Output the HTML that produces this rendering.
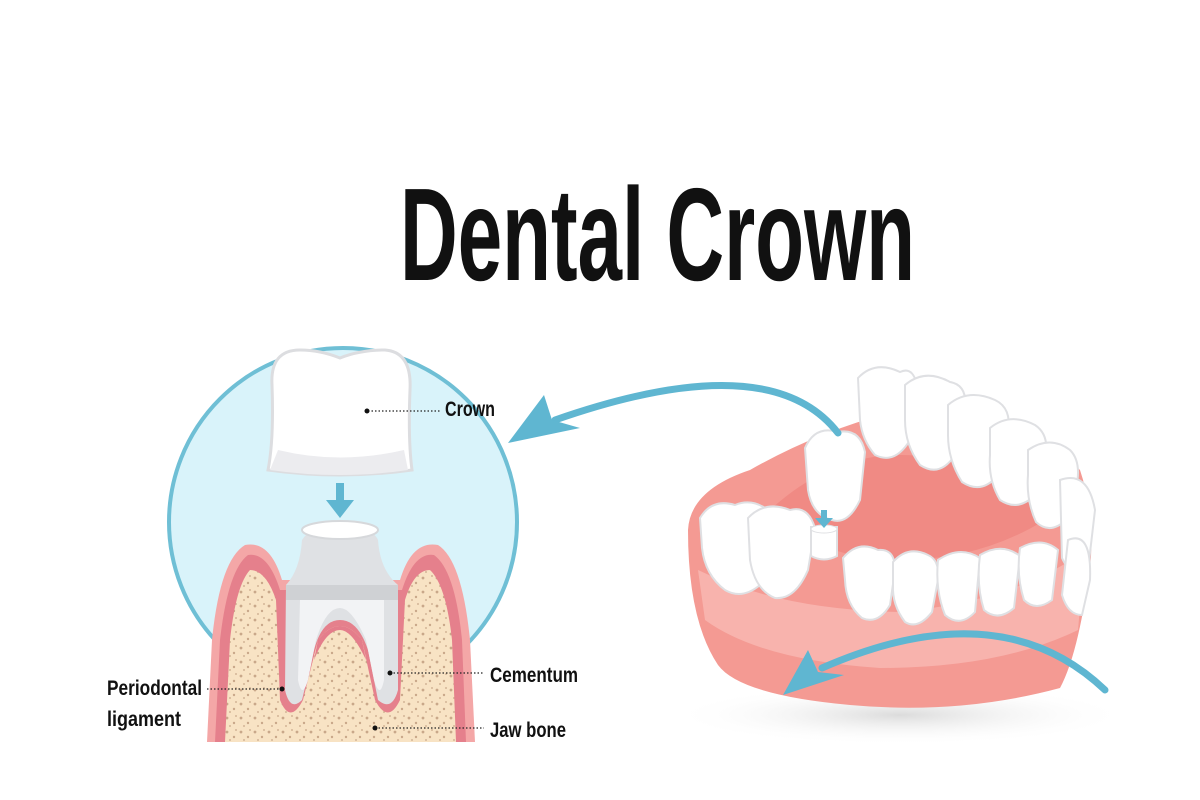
<!DOCTYPE html>
<html><head><meta charset="utf-8"><style>
html,body{margin:0;padding:0;background:#fff;width:1200px;height:800px;overflow:hidden}
svg{display:block}
text{font-family:"Liberation Sans",sans-serif;fill:#111;font-weight:bold}
</style></head><body>
<svg width="1200" height="800" viewBox="0 0 1200 800" xmlns="http://www.w3.org/2000/svg">
<defs>
<pattern id="dots" width="14" height="14" patternUnits="userSpaceOnUse">
<rect width="14" height="14" fill="#f8e3c4"/>
<circle cx="3" cy="4" r="1.4" fill="#c9a88a"/><circle cx="10" cy="9" r="1.2" fill="#c9a88a"/><circle cx="6" cy="12" r="0.9" fill="#c9a88a"/><circle cx="12" cy="2" r="0.9" fill="#c9a88a"/>
</pattern>
<radialGradient id="sh" cx="0.5" cy="0.5" r="0.5"><stop offset="0" stop-color="#ccc" stop-opacity="0.7"/><stop offset="1" stop-color="#fff" stop-opacity="0"/></radialGradient>
</defs>

<text x="400" y="280" font-size="132" textLength="515" lengthAdjust="spacingAndGlyphs">Dental Crown</text>

<circle cx="343" cy="522" r="174" fill="#d9f3fa" stroke="#6fbfd5" stroke-width="4"/>

<path d="M207,742 L212,640 Q220,560 245,545 Q270,540 282,580 L400,580 Q412,540 438,545 Q462,560 470,640 L475,742 Z" fill="#f4a7a7"/>
<path d="M215,742 L220,640 Q228,570 248,555 Q268,552 280,590 L402,590 Q414,552 434,555 Q455,570 462,640 L466,742 Z" fill="#e5808c"/>
<path d="M225,742 L230,640 Q236,585 250,570 Q266,570 276,600 L280,700 Q290,725 303,700 L318,640 Q340,612 362,640 L375,700 Q388,725 400,700 L405,600 Q414,570 430,570 Q446,585 452,640 L456,742 Z" fill="url(#dots)"/>
<path d="M286,585 Q300,570 302,540 Q310,526 340,526 Q372,526 378,540 Q380,570 398,585 L398,690 Q392,712 378,700 L368,650 Q358,620 340,620 Q322,620 314,650 L302,700 Q290,712 285,690 Z" fill="#dfe1e4"/>
<path d="M300,600 L384,600 L384,680 Q380,700 374,680 L366,640 Q352,608 340,608 Q326,608 316,640 L308,680 Q302,700 298,680 Z" fill="#f2f3f5"/>
<path d="M318,640 Q340,612 362,640 L366,660 Q352,630 340,630 Q326,630 314,660 Z" fill="#e47d8b"/>
<ellipse cx="340" cy="530" rx="38" ry="9" fill="#fff" stroke="#d6d8db" stroke-width="2"/>
<path d="M286,585 L398,585 L398,600 L286,600 Z" fill="#cfd1d4"/>
<rect x="336" y="483" width="8" height="20" fill="#5fb6d1"/>
<polygon points="326,500 354,500 340,518" fill="#5fb6d1"/>
<path d="M272,385 Q270,350 300,350 Q320,350 340,358 Q360,350 385,350 Q412,352 410,390 Q408,440 412,470 Q340,480 268,470 Q274,440 272,385 Z" fill="#fff" stroke="#dcdde0" stroke-width="3"/>
<path d="M278,450 Q340,465 404,450 L408,470 Q340,480 270,470 Z" fill="#ececef"/>

<g font-size="21">
<text x="445" y="416" textLength="50" lengthAdjust="spacingAndGlyphs">Crown</text>
<text x="490" y="682" textLength="88" lengthAdjust="spacingAndGlyphs">Cementum</text>
<text x="490" y="737" textLength="76" lengthAdjust="spacingAndGlyphs">Jaw bone</text>
<text x="107" y="695" textLength="95" lengthAdjust="spacingAndGlyphs">Periodontal</text>
<text x="107" y="726" textLength="74" lengthAdjust="spacingAndGlyphs">ligament</text>
</g>
<g stroke="#222" stroke-width="1.3" stroke-dasharray="1.5 2" fill="none">
<line x1="368" y1="411" x2="440" y2="411"/>
<line x1="390" y1="673" x2="484" y2="673"/>
<line x1="375" y1="728" x2="484" y2="728"/>
<line x1="207" y1="689" x2="282" y2="689"/>
</g>
<g fill="#111"><circle cx="367" cy="411" r="2.5"/><circle cx="390" cy="673" r="2.5"/><circle cx="375" cy="728" r="2.5"/><circle cx="282" cy="689" r="2.5"/></g>

<!-- jaw -->
<ellipse cx="900" cy="715" rx="230" ry="30" fill="url(#sh)"/>
<path d="M688,530 Q690,490 750,470 Q820,430 900,410 Q1010,400 1080,470 Q1100,530 1085,600 Q1075,660 1060,688 Q960,715 850,705 Q740,695 718,665 Q688,620 688,530 Z" fill="#f49a93"/>
<path d="M698,570 Q780,610 900,612 Q1020,600 1085,550 L1078,630 Q1000,668 880,668 Q760,660 705,620 Z" fill="#f8b3ad"/>
<path d="M770,510 Q830,455 900,455 Q990,455 1045,520 Q980,560 900,560 Q820,560 770,510 Z" fill="#f08a84"/>
<g fill="#fff" stroke="#dfe0e3" stroke-width="2">
<path d="M858,378 Q875,360 900,372 Q915,365 918,392 L910,440 Q895,465 875,455 Q862,440 860,420 Z"/>
<path d="M905,385 Q925,368 950,382 Q968,385 965,410 L955,455 Q940,478 920,465 Q905,445 905,420 Z"/>
<path d="M948,405 Q968,388 995,400 Q1012,408 1008,432 L998,475 Q982,495 962,482 Q948,460 948,435 Z"/>
<path d="M990,428 Q1010,412 1035,425 Q1050,435 1045,458 L1035,495 Q1018,512 1000,500 Q988,480 990,455 Z"/>
<path d="M1028,450 Q1050,435 1070,450 Q1082,462 1076,488 L1066,520 Q1050,535 1036,522 Q1026,500 1028,475 Z"/>
<path d="M1060,480 Q1088,470 1095,510 L1088,570 Q1072,580 1062,558 Z"/>
<path d="M1068,540 Q1092,530 1090,580 L1082,615 Q1068,615 1062,595 Z"/>
<path d="M700,518 Q712,498 735,505 Q752,498 768,510 Q775,530 768,555 L760,585 Q742,600 725,590 Q705,575 702,548 Z"/>
<path d="M748,518 Q765,500 790,510 Q808,505 815,528 L808,570 Q795,600 775,598 Q755,590 750,560 Z"/>
<path d="M843,558 Q858,540 878,550 Q895,548 895,570 L890,605 Q878,625 862,618 Q846,605 845,580 Z"/>
<path d="M893,562 Q908,545 928,555 Q940,560 938,580 L932,612 Q918,630 905,622 Q892,605 893,585 Z"/>
<path d="M938,560 Q960,545 980,558 L975,612 Q960,628 945,615 Q935,590 938,560 Z"/>
<path d="M980,555 Q1002,542 1020,556 L1014,608 Q998,622 984,610 Q976,585 980,555 Z"/>
<path d="M1020,548 Q1042,536 1058,550 L1052,600 Q1036,612 1024,600 Q1016,575 1020,548 Z"/>
<path d="M805,448 Q815,425 838,432 Q860,428 865,452 L860,500 Q848,525 832,520 Q812,515 808,490 Z"/>
<path d="M811,527 L837,527 L837,556 Q824,563 811,556 Z"/>
</g>
<ellipse cx="824" cy="529" rx="13" ry="4" fill="#fff" stroke="#dfe0e3"/>
<rect x="821" y="510" width="6" height="10" fill="#5fb6d1"/>
<polygon points="815,518 833,518 824,528" fill="#5fb6d1"/>

<!-- curved arrows -->
<path d="M838,433 Q770,345 555,420" fill="none" stroke="#5fb6d1" stroke-width="7" stroke-linecap="round"/>
<polygon points="508,443 544,395 552,420 580,428" fill="#5fb6d1"/>
<path d="M1105,690 Q1000,590 822,668" fill="none" stroke="#5fb6d1" stroke-width="7" stroke-linecap="round"/>
<polygon points="783,695 808,650 818,672 844,675" fill="#5fb6d1"/>
</svg>
</body></html>
